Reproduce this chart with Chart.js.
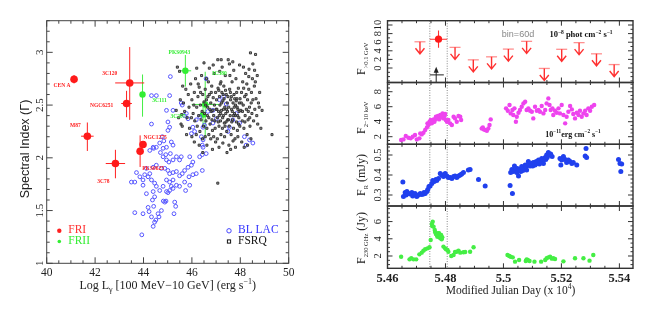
<!DOCTYPE html>
<html><head><meta charset="utf-8">
<script src="https://cdn.jsdelivr.net/npm/chart.js@4.4.0/dist/chart.umd.min.js"></script>
<style>
html,body{margin:0;padding:0;background:#fff;}
#wrap{position:relative;width:664px;height:317px;overflow:hidden;}
canvas{position:absolute;left:0;top:0;}
</style></head><body>
<div id="wrap">
<canvas id="cL" width="664" height="317"></canvas>
<canvas id="c1" width="664" height="317"></canvas>
<canvas id="c2" width="664" height="317"></canvas>
<canvas id="c3" width="664" height="317"></canvas>
<canvas id="c4" width="664" height="317"></canvas>
</div>
<script>
// ================= DATA : left panel =================
const lumTicks = [40,42,44,46,48,50];
const lumTickLabels = ['40','42','44','46','48','50'];
const idxTicks = [1,1.5,2,2.5,3];
const idxTickLabels = ['1','1.5','2','2.5','3'];
const lumRange = [40,50];
const idxRange = [1,3.3];

const friNames = ['CEN A','3C120','NGC6251','M87','NGC1275','PKS0625','3C78'];
const friX = [41.13,43.43,43.30,41.68,43.98,43.86,42.84];
const friY = [2.745,2.71,2.515,2.205,2.126,2.063,1.946];
const friXerr = [0.05,0.60,0.22,0.26,0.05,0.08,0.40];
const friYerrLo = [0.04,0.35,0.13,0.14,0.03,0.15,0.14];
const friYerrHi = [0.04,0.34,0.12,0.13,0.03,0.15,0.13];

const friiNames = ['PKS0943','3C111','3C380','3C207'];
const friiX = [45.73,43.96,46.55,46.46];
const friiY = [2.825,2.60,2.506,2.41];
const friiXerr = [0.24,0.10,0.56,0.15];
const friiYerrLo = [0.15,0.21,0.31,0.12];
const friiYerrHi = [0.15,0.19,0.31,0.09];

const blLac = [
[45.11,2.77],[44.33,2.59],[44.53,2.59],[45.08,2.59],[45.56,2.52],[45.60,2.50],[44.95,2.45],[45.22,2.45],[44.33,2.32],[45.01,2.34],
[45.08,2.29],[45.01,2.26],[45.70,2.40],[45.84,2.37],[46.04,2.29],[46.11,2.25],[45.77,2.42],[46.32,2.39],[46.59,2.75],[46.66,2.44],
[46.46,2.29],[46.39,2.20],[46.46,2.17],[46.43,2.12],[46.46,2.10],[46.32,2.01],[46.43,2.03],[46.59,2.04],[46.43,1.88],[46.87,2.45],
[47.14,2.55],[47.31,2.58],[47.55,2.29],[47.49,2.25],[47.69,2.36],[47.83,2.42],[47.97,2.33],[48.17,2.20],[48.24,2.12],[48.38,2.17],
[48.52,2.14],[47.01,2.37],[46.87,2.33],[46.52,2.31],[47.42,2.51],[45.98,2.23],[46.18,2.36],
[44.78,2.20],[44.84,2.16],[44.67,2.14],[44.53,2.10],[44.40,2.10],[44.42,2.09],[44.26,2.07],[44.81,2.09],[44.95,2.10],[45.15,2.15],
[45.22,2.12],[45.11,2.04],[44.92,2.03],[44.70,2.05],[44.81,2.01],[44.95,1.98],[45.05,1.96],[45.22,1.98],[45.36,2.01],[45.56,2.01],
[45.49,1.98],[45.91,2.01],[46.04,1.96],[45.98,1.93],[45.84,1.91],[45.70,1.88],[45.60,1.85],[45.49,1.83],[45.36,1.87],[45.22,1.86],
[45.08,1.85],[45.01,1.88],[44.88,1.90],[44.74,1.90],[44.53,1.93],[44.40,1.91],[44.26,1.85],[44.12,1.90],[44.05,1.84],[43.98,1.79],
[43.85,1.82],[43.71,1.86],[43.64,1.77],[43.50,1.77],[43.98,1.74],[44.19,1.82],[44.33,1.79],[44.46,1.76],[44.53,1.73],[44.67,1.69],
[44.81,1.73],[44.95,1.79],[45.08,1.77],[45.22,1.79],[45.36,1.74],[45.49,1.73],[45.70,1.77],[45.88,1.82],[45.91,1.74],[46.04,1.84],
[46.18,1.85],[44.40,1.68],[44.46,1.63],[44.37,1.60],[44.42,1.54],[44.95,1.68],[45.01,1.67],[45.08,1.69],[45.15,1.73],[45.22,1.71],
[45.29,1.58],[45.33,1.54],[44.88,1.58],[44.74,1.50],[44.60,1.47],[44.64,1.44],[44.51,1.41],[44.46,1.39],[44.19,1.53],[44.23,1.49],
[44.33,1.44],[43.98,1.47],[43.93,1.27],[43.64,1.48],[44.40,1.35],[44.12,1.66],[44.82,1.59],[44.93,1.59],[45.26,1.47],[45.74,1.69]
];

const fsrq = [
[45.40,2.86],[45.49,2.82],[45.35,2.45],[45.45,2.38],[45.55,2.32],[45.60,2.30],[45.65,2.52],[45.70,2.44],[45.75,2.65],[45.80,2.38],
[45.85,2.60],[45.90,2.28],[45.62,2.68],[45.52,2.55],[45.88,2.48],[45.78,2.22],[45.58,2.41],
[45.95,2.70],[46.00,2.55],[46.05,2.42],[46.10,2.62],[46.12,2.35],[46.15,2.75],[46.20,2.48],[46.22,2.30],[46.25,2.58],[46.28,2.40],
[46.30,2.67],[46.33,2.25],[46.35,2.50],[46.38,2.36],[46.40,2.78],[46.42,2.44],[46.45,2.60],[46.48,2.30],[46.50,2.53],[46.00,2.20],
[46.10,2.15],[46.30,2.12],[46.45,2.05],[46.20,2.85],[45.98,2.38],[46.08,2.50],[46.36,2.62],[46.18,2.22],[46.26,2.70],[46.44,2.18],
[46.52,2.42],[46.55,2.65],[46.58,2.35],[46.60,2.55],[46.62,2.28],[46.65,2.48],[46.68,2.72],[46.70,2.38],[46.72,2.60],[46.75,2.32],
[46.78,2.52],[46.80,2.44],[46.82,2.68],[46.85,2.26],[46.88,2.57],[46.90,2.40],[46.92,2.80],[46.95,2.35],[46.98,2.62],[47.00,2.46],
[46.55,2.20],[46.62,2.12],[46.70,2.22],[46.78,2.18],[46.85,2.08],[46.90,2.20],[46.98,2.15],[46.60,2.75],[46.72,2.85],[46.88,2.88],
[46.50,2.90],[46.66,2.58],[46.74,2.46],[46.83,2.36],[46.93,2.50],[46.57,2.50],[46.64,2.40],[46.80,2.62],[46.96,2.28],[46.86,2.45],
[47.02,2.55],[47.05,2.38],[47.07,2.93],[47.08,2.66],[47.10,2.44],[47.12,2.30],[47.14,2.58],[47.16,2.50],[47.18,2.35],[47.20,2.72],
[47.21,2.93],[47.22,2.45],[47.24,2.62],[47.26,2.28],[47.28,2.54],[47.30,2.40],[47.32,2.68],[47.34,2.33],[47.36,2.48],[47.38,2.78],
[47.40,2.42],[47.42,2.60],[47.44,2.25],[47.46,2.52],[47.48,2.36],[47.50,2.93],[47.05,2.18],[47.12,2.10],[47.20,2.22],[47.28,2.14],
[47.35,2.20],[47.45,2.05],[47.07,1.76],[47.15,2.82],[47.25,2.86],[47.33,2.56],[47.03,2.46],[47.11,2.64],[47.19,2.42],[47.27,2.38],
[47.37,2.30],[47.43,2.46],[47.09,2.34],[47.17,2.70],[47.23,2.52],[47.31,2.46],[47.39,2.64],[47.47,2.44],[47.13,2.40],[47.29,2.60],
[47.41,2.34],[47.49,2.58],
[47.52,2.48],[47.54,2.30],[47.55,2.89],[47.56,2.65],[47.58,2.40],[47.60,2.55],[47.62,2.22],[47.64,2.46],[47.66,2.72],[47.68,2.36],
[47.69,2.91],[47.70,2.52],[47.72,2.28],[47.74,2.60],[47.76,2.42],[47.78,2.18],[47.80,2.50],[47.82,2.75],[47.84,2.34],[47.86,2.56],
[47.88,2.26],[47.90,2.46],[47.92,2.66],[47.94,2.38],[47.96,2.52],[47.97,2.88],[47.98,2.30],[47.53,2.12],[47.60,2.08],[47.70,2.16],
[47.80,2.10],[47.90,2.20],[47.57,2.78],[47.73,2.83],[47.85,2.62],[47.63,2.58],[47.75,2.48],[47.95,2.44],[47.67,2.44],[47.79,2.40],
[47.87,2.48],[47.51,2.36],[47.59,2.62],[47.71,2.40],[47.83,2.54],[47.93,2.32],[47.65,2.34],[47.77,2.56],[47.89,2.40],[47.99,2.56],
[48.02,2.45],[48.05,2.62],[48.08,2.35],[48.10,2.72],[48.12,2.50],[48.15,2.28],[48.18,2.58],[48.20,2.40],[48.22,2.80],[48.25,2.46],
[48.28,2.22],[48.30,2.55],[48.32,2.36],[48.35,2.65],[48.38,2.48],[48.40,2.30],[48.42,2.995],[48.45,2.52],[48.48,2.42],[48.50,2.75],
[48.06,2.15],[48.16,2.10],[48.30,2.12],[48.44,2.18],[48.13,2.86],[48.27,2.70],[48.36,2.84],[48.04,2.52],[48.24,2.60],[48.46,2.62],
[48.09,2.44],[48.19,2.34],[48.33,2.44],[48.14,2.66],[48.39,2.38],
[48.52,2.55],[48.55,2.35],[48.58,2.68],[48.60,2.46],[48.63,2.98],[48.65,2.56],[48.68,2.40],[48.70,2.78],[48.75,2.52],[48.80,2.62],
[48.85,2.28],[48.90,2.45],[49.31,2.22],[48.72,2.32],[48.62,2.72],[48.78,2.48],[48.52,2.89],[48.59,2.83],[48.35,2.77]
];

// ================= DATA : right panels (MJD / 1e4) =================
const mjdRange = [5.46, 5.5447];
const mjdTicks = [5.46,5.48,5.50,5.52,5.54];
const mjdTickLabels = ['5.46','5.48','5.5','5.52','5.54'];
const flareEdges = [5.4746, 5.4806];

// panel 1 : gamma-ray flux (1e-8 ph cm-2 s-1)
const gamRange = [-3.37, 11.0];
const gamTicks = [0,2,4,6,8,10];
const gamTickLabels = ['0','2','4','6','8','10'];
const ulT = [5.4712,5.4833,5.4896,5.4959,5.5017,5.5080,5.5141,5.5201,5.5261,5.5321,5.5382];
const ulF = [6.1,4.8,1.9,2.6,4.4,6.2,-0.1,4.35,5.9,3.3,0.8];
const detT = [5.4776];
const detF = [6.7];
const detFerr = [2.0];
const tsT = [5.4768];
const tsLevel = [-1.6];
const tsTip = [0.3];

// panel 2 : X-ray 2-10 keV (1e-11 erg cm-2 s-1)
const xrRange = [0.987, 9.23];
const xrTicks = [2,4,6,8];
const xrTickLabels = ['2','4','6','8'];
const xray = [
[5.4647,1.56],[5.4655,1.64],[5.4663,2.09],[5.4672,1.87],[5.4680,1.78],[5.4687,2.00],[5.4695,2.22],[5.4701,1.64],[5.4710,1.78],[5.4713,2.44],
[5.4718,2.31],[5.4724,2.53],[5.4730,2.89],[5.4736,3.24],[5.4738,3.78],[5.4741,3.56],[5.4745,4.00],[5.4747,3.78],[5.4749,4.22],[5.4753,3.78],
[5.4756,4.13],[5.4759,4.31],[5.4762,4.00],[5.4764,4.31],[5.4767,4.67],[5.4770,4.44],[5.4774,4.76],[5.4776,4.58],[5.4778,4.31],[5.4782,4.89],
[5.4785,4.58],[5.4787,4.76],[5.4790,5.11],[5.4793,4.44],[5.4797,4.76],[5.4799,5.02],[5.4801,4.22],[5.4805,4.00],[5.4810,4.22],[5.4816,3.78],
[5.4822,3.56],[5.4828,4.67],[5.4833,4.44],[5.4839,4.00],[5.4845,4.76],[5.4851,4.67],[5.4854,4.22],
[5.4925,3.11],[5.4929,3.24],[5.4931,2.98],[5.4937,2.89],[5.4943,2.80],[5.4948,3.11],[5.4952,3.56],[5.4956,4.31],
[5.5009,5.78],[5.5015,5.47],[5.5021,6.22],[5.5025,5.11],[5.5031,5.56],[5.5034,4.89],[5.5038,5.78],[5.5043,4.00],[5.5046,4.67],[5.5052,5.20],
[5.5057,5.56],[5.5063,6.00],[5.5069,6.44],[5.5075,6.67],[5.5080,5.56],[5.5086,5.78],[5.5092,5.47],[5.5098,5.33],[5.5103,4.44],[5.5109,6.00],
[5.5115,5.47],[5.5121,5.56],[5.5126,5.33],[5.5132,6.09],[5.5138,5.11],[5.5144,5.56],[5.5149,6.44],[5.5155,7.11],[5.5159,6.22],[5.5163,5.56],
[5.5169,5.78],[5.5172,4.89],[5.5178,5.47],[5.5184,5.20],[5.5190,5.78],[5.5195,5.11],[5.5201,6.22],[5.5207,4.89],[5.5213,3.78],[5.5218,4.67],
[5.5224,5.33],[5.5230,6.09],[5.5236,5.64],[5.5241,5.02],[5.5247,4.44],[5.5253,5.20],[5.5259,4.89],[5.5264,5.47],[5.5270,4.67],[5.5276,5.11],
[5.5282,5.47],[5.5287,4.89],[5.5293,5.78],[5.5299,5.47],[5.5305,6.00],[5.5313,6.22]
];

// panel 3 : optical R band (mJy)
const optRange = [0.245, 0.5535];
const optTicks = [0.3,0.4,0.5];
const optTickLabels = ['0.3','0.4','0.5'];
const optical = [
[5.4653,0.365],[5.4655,0.292],[5.4661,0.312],[5.4664,0.300],[5.4667,0.317],[5.4672,0.308],[5.4678,0.305],[5.4684,0.312],[5.4687,0.295],[5.4690,0.303],
[5.4695,0.308],[5.4701,0.292],[5.4707,0.300],[5.4713,0.308],[5.4718,0.303],[5.4724,0.305],[5.4726,0.312],[5.4730,0.308],[5.4736,0.317],[5.4739,0.328],
[5.4743,0.342],[5.4747,0.345],[5.4753,0.358],[5.4756,0.372],[5.4761,0.367],[5.4767,0.378],[5.4770,0.372],[5.4776,0.383],[5.4782,0.408],[5.4787,0.400],
[5.4793,0.392],[5.4799,0.408],[5.4805,0.395],[5.4810,0.388],[5.4816,0.387],[5.4822,0.383],[5.4828,0.392],[5.4833,0.395],[5.4839,0.388],[5.4845,0.395],
[5.4851,0.400],[5.4856,0.405],[5.4862,0.412],[5.4879,0.425],[5.4885,0.428],[5.4914,0.378],[5.4937,0.345],
[5.5023,0.348],[5.5025,0.412],[5.5029,0.428],[5.5031,0.308],[5.5034,0.417],[5.5038,0.445],[5.5043,0.425],[5.5046,0.412],[5.5048,0.433],[5.5052,0.395],
[5.5055,0.428],[5.5060,0.417],[5.5063,0.442],[5.5067,0.422],[5.5069,0.433],[5.5075,0.450],[5.5078,0.442],[5.5080,0.425],[5.5086,0.467],[5.5090,0.455],
[5.5092,0.445],[5.5098,0.458],[5.5101,0.445],[5.5103,0.462],[5.5109,0.450],[5.5113,0.467],[5.5115,0.458],[5.5121,0.475],[5.5124,0.455],[5.5126,0.467],
[5.5132,0.483],[5.5136,0.475],[5.5138,0.458],[5.5144,0.488],[5.5146,0.478],[5.5149,0.500],[5.5151,0.488],[5.5155,0.512],[5.5159,0.500],[5.5163,0.505],
[5.5168,0.492],[5.5195,0.483],[5.5198,0.450],[5.5201,0.475],[5.5207,0.492],[5.5213,0.478],[5.5218,0.462],[5.5224,0.475],[5.5230,0.467],[5.5236,0.458],
[5.5241,0.462],[5.5253,0.450],[5.5282,0.495],[5.5285,0.533],[5.5287,0.488],[5.5397,0.478],[5.5402,0.458],[5.5405,0.417],[5.5408,0.455]
];

// panel 4 : radio 230 GHz (Jy)
const radRange = [0.57, 7.81];
const radTicks = [2,4,6];
const radTickLabels = ['2','4','6'];
const radio = [
[5.4647,1.92],[5.4676,1.61],[5.4682,1.73],[5.4690,1.61],[5.4699,1.61],[5.4710,2.19],[5.4718,2.39],[5.4724,2.62],[5.4730,2.78],[5.4738,2.89],
[5.4745,3.01],[5.4749,3.86],[5.4753,5.72],[5.4754,5.49],[5.4756,5.99],[5.4759,5.41],[5.4763,5.02],[5.4764,4.79],[5.4767,4.56],[5.4770,4.44],
[5.4772,4.25],[5.4774,4.64],[5.4776,4.25],[5.4778,4.64],[5.4779,4.33],[5.4782,4.05],[5.4784,4.25],[5.4785,4.44],[5.4787,3.94],[5.4789,4.17],
[5.4793,3.09],[5.4799,2.89],[5.4802,2.78],[5.4807,2.70],[5.4810,2.50],[5.4820,2.00],[5.4828,2.12],[5.4833,2.47],[5.4839,2.50],[5.4845,2.62],
[5.4851,2.39],[5.4862,2.43],[5.4868,2.47],[5.4885,2.50],[5.4897,3.01],
[5.5014,2.12],[5.5020,2.00],[5.5025,1.92],[5.5032,1.84],[5.5040,1.34],[5.5054,1.53],[5.5077,1.42],[5.5080,1.61],[5.5084,1.53],[5.5090,1.42],
[5.5107,1.34],[5.5130,1.34],[5.5144,1.53],[5.5149,1.73],[5.5155,1.84],[5.5161,1.92],[5.5167,1.69],[5.5172,1.73],[5.5178,1.65],[5.5207,1.38],
[5.5247,1.73],[5.5276,1.73],[5.5297,1.46],[5.5310,2.12]
];

// ================= STYLE / LAYOUT =================
const SERIF = '"Liberation Serif", "DejaVu Serif", serif';
const SANS = '"Liberation Sans", "DejaVu Sans", sans-serif';
const LEFT_AREA = {left:46.7, top:20.7, right:288.7, bottom:263.3};
const R_LEFT = 387.5, R_RIGHT = 633;
const R_ROWS = [[20.7,82.5],[82.5,144.3],[144.3,206],[206,268.3]];

function rich(ctx, segs, x, y, o) {
  o = o || {};
  const align = o.align || 'center';
  ctx.save();
  ctx.translate(x, y);
  if (o.rotate) ctx.rotate(o.rotate);
  ctx.fillStyle = o.color || '#000';
  ctx.textBaseline = 'alphabetic';
  ctx.textAlign = 'left';
  let w = 0;
  for (const s of segs) {
    ctx.font = (s.w || o.w || 'normal') + ' ' + s.size + 'px ' + (s.f || o.f || SERIF);
    s._w = ctx.measureText(s.t).width; w += s._w;
  }
  let cx = align === 'center' ? -w / 2 : (align === 'right' ? -w : 0);
  for (const s of segs) {
    ctx.font = (s.w || o.w || 'normal') + ' ' + s.size + 'px ' + (s.f || o.f || SERIF);
    ctx.fillText(s.t, cx, s.dy || 0);
    cx += s._w;
  }
  ctx.restore();
}

function isMajor(v, majors, step) {
  return majors.some(m => Math.abs(m - v) < step / 10);
}

function drawTicks(ctx, chart, xMinor, xMajors, yMinor, yMajors, majLen, minLen) {
  const a = chart.chartArea, xs = chart.scales.x, ys = chart.scales.y;
  ctx.beginPath();
  for (let k = Math.ceil(xs.min / xMinor - 1e-6); k * xMinor <= xs.max + 1e-9; k++) {
    const v = k * xMinor, p = xs.getPixelForValue(v);
    const L = isMajor(v, xMajors, xMinor) ? majLen : minLen;
    ctx.moveTo(p, a.bottom); ctx.lineTo(p, a.bottom - L);
    ctx.moveTo(p, a.top); ctx.lineTo(p, a.top + L);
  }
  for (let k = Math.ceil(ys.min / yMinor - 1e-6); k * yMinor <= ys.max + 1e-9; k++) {
    const v = k * yMinor, p = ys.getPixelForValue(v);
    const L = isMajor(v, yMajors, yMinor) ? majLen : minLen;
    ctx.moveTo(a.left, p); ctx.lineTo(a.left + L, p);
    ctx.moveTo(a.right, p); ctx.lineTo(a.right - L, p);
  }
  ctx.stroke();
}

function baseOptions(area, xr, yr) {
  return {
    responsive: false, animation: false, events: [],
    layout: {padding: {left: area.left, top: area.top, right: 664 - area.right, bottom: 317 - area.bottom}},
    plugins: {legend: {display: false}, tooltip: {enabled: false}},
    scales: {
      x: {type: 'linear', min: xr[0], max: xr[1], display: false, ticks: {display: false}, grid: {display: false}},
      y: {type: 'linear', min: yr[0], max: yr[1], display: false, ticks: {display: false}, grid: {display: false}}
    }
  };
}

// ================= LEFT PANEL =================
const nameOffsets = { // pixel offsets of label centres from points (style)
  fri: [[-12,6],[-20,-9],[-25,2],[-12,-11],[12,-7],[13,17],[-12,18]],
  frii: [[-6,-18],[17,6],[14,-31],[-25,2]]
};

const leftDeco = {
  id: 'leftDeco',
  beforeDatasetsDraw(chart) {
    const ctx = chart.ctx, xs = chart.scales.x, ys = chart.scales.y;
    ctx.save();
    ctx.lineWidth = 1;
    const bars = (X, Y, XE, YL, YH, col) => {
      ctx.strokeStyle = col;
      ctx.beginPath();
      for (let i = 0; i < X.length; i++) {
        const px = xs.getPixelForValue(X[i]), py = ys.getPixelForValue(Y[i]);
        ctx.moveTo(xs.getPixelForValue(X[i] - XE[i]), py); ctx.lineTo(xs.getPixelForValue(X[i] + XE[i]), py);
        ctx.moveTo(px, ys.getPixelForValue(Y[i] - YL[i])); ctx.lineTo(px, ys.getPixelForValue(Y[i] + YH[i]));
      }
      ctx.stroke();
    };
    bars(friiX, friiY, friiXerr, friiYerrLo, friiYerrHi, '#44ee44');
    bars(friX, friY, friXerr, friYerrLo, friYerrHi, '#ff2020');
    ctx.restore();
  },
  afterDatasetsDraw(chart) {
    const ctx = chart.ctx, a = chart.chartArea, xs = chart.scales.x, ys = chart.scales.y;
    ctx.save();
    ctx.strokeStyle = '#444'; ctx.lineWidth = 1;
    ctx.strokeRect(a.left, a.top, a.right - a.left, a.bottom - a.top);
    drawTicks(ctx, chart, 0.5, lumTicks, 0.1, idxTicks, 6, 3);
    ctx.fillStyle = '#222';
    ctx.font = '11.5px ' + SERIF; ctx.textAlign = 'center'; ctx.textBaseline = 'alphabetic';
    lumTicks.forEach((v, i) => ctx.fillText(lumTickLabels[i], xs.getPixelForValue(v), a.bottom + 13));
    idxTicks.forEach((v, i) => {
      ctx.save(); ctx.translate(a.left - 7, ys.getPixelForValue(v)); ctx.rotate(-Math.PI / 2);
      ctx.textBaseline = 'middle'; ctx.font = '11px ' + SERIF; ctx.fillText(idxTickLabels[i], 0, 0); ctx.restore();
    });
    rich(ctx, [{t: 'Spectral Index (\u0393)', size: 12.5}], 28.5, 149, {rotate: -Math.PI / 2, f: SANS, color: '#222'});
    rich(ctx, [{t: 'Log L', size: 12}, {t: '\u03b3', size: 8, dy: 3}, {t: ' [100 MeV\u221210 GeV] (erg s', size: 12}, {t: '\u22121', size: 8, dy: -5}, {t: ')', size: 12}],
      (a.left + a.right) / 2, a.bottom + 26, {color: '#222'});
    ctx.font = 'bold 5.5px ' + SERIF; ctx.textAlign = 'center'; ctx.textBaseline = 'middle';
    ctx.fillStyle = '#ff2020';
    friNames.forEach((n, i) => ctx.fillText(n, xs.getPixelForValue(friX[i]) + nameOffsets.fri[i][0], ys.getPixelForValue(friY[i]) + nameOffsets.fri[i][1]));
    ctx.fillStyle = '#33ee33';
    friiNames.forEach((n, i) => ctx.fillText(n, xs.getPixelForValue(friiX[i]) + nameOffsets.frii[i][0], ys.getPixelForValue(friiY[i]) + nameOffsets.frii[i][1]));
    const lx1 = a.left + 12.6, lx2 = a.left + 182.3, ly1 = a.bottom - 32.5, ly2 = a.bottom - 21.8;
    ctx.fillStyle = '#ff2020'; ctx.beginPath(); ctx.arc(lx1, ly1, 2.2, 0, 2 * Math.PI); ctx.fill();
    ctx.fillStyle = '#33ee33'; ctx.beginPath(); ctx.arc(lx1, ly2, 1.8, 0, 2 * Math.PI); ctx.fill();
    ctx.strokeStyle = '#4444ff'; ctx.lineWidth = 1; ctx.beginPath(); ctx.arc(lx2, ly1, 2.2, 0, 2 * Math.PI); ctx.stroke();
    ctx.strokeStyle = '#111'; ctx.strokeRect(lx2 - 1.6, ly2 - 1.6, 3.2, 3.2);
    ctx.font = '11.5px ' + SERIF; ctx.textAlign = 'left'; ctx.textBaseline = 'middle';
    ctx.fillStyle = '#ff3030'; ctx.fillText('FRI', lx1 + 9, ly1 - 1);
    ctx.fillStyle = '#33ee33'; ctx.fillText('FRII', lx1 + 9, ly2 - 1);
    ctx.fillStyle = '#3333ff'; ctx.fillText('BL LAC', lx2 + 9, ly1 - 1);
    ctx.fillStyle = '#111'; ctx.fillText('FSRQ', lx2 + 9, ly2 - 1);
    ctx.restore();
  }
};

const toXY = arr => arr.map(p => ({x: p[0], y: p[1]}));
const zipXY = (X, Y) => X.map((x, i) => ({x: x, y: Y[i]}));

new Chart(document.getElementById('cL'), {
  type: 'scatter',
  data: {datasets: [
    {data: toXY(fsrq), pointStyle: 'rect', pointRadius: 1.45, borderWidth: 0.9, borderColor: '#2a2a2a', backgroundColor: 'rgba(130,130,130,0.7)'},
    {data: toXY(blLac), pointStyle: 'circle', pointRadius: 1.9, borderWidth: 1, borderColor: '#5555ff', backgroundColor: 'rgba(255,255,255,0)'},
    {data: zipXY(friiX, friiY), pointStyle: 'circle', pointRadius: 3.2, borderWidth: 0, backgroundColor: '#33ee33'},
    {data: zipXY(friX, friY), pointStyle: 'circle', pointRadius: 3.8, borderWidth: 0, backgroundColor: '#ff1a1a'}
  ]},
  options: baseOptions(LEFT_AREA, lumRange, idxRange),
  plugins: [leftDeco]
});

// ================= RIGHT PANELS =================
function rightDeco(idx, yTicks, yLabels, yMinor, titleSegs, titleStart, extra) {
  return {
    id: 'rdeco' + idx,
    beforeDatasetsDraw(chart) {
      const ctx = chart.ctx, a = chart.chartArea, xs = chart.scales.x;
      ctx.save();
      ctx.strokeStyle = '#888'; ctx.lineWidth = 1; ctx.setLineDash([1, 1.5]);
      ctx.beginPath();
      flareEdges.forEach(t => { const p = xs.getPixelForValue(t); ctx.moveTo(p, a.top); ctx.lineTo(p, a.bottom); });
      ctx.stroke();
      ctx.restore();
    },
    afterDatasetsDraw(chart) {
      const ctx = chart.ctx, a = chart.chartArea, xs = chart.scales.x, ys = chart.scales.y;
      if (extra && extra.after) extra.after(chart);
      ctx.save();
      ctx.strokeStyle = '#333'; ctx.lineWidth = 1.4;
      ctx.strokeRect(a.left, a.top, a.right - a.left, a.bottom - a.top);
      ctx.lineWidth = 1;
      drawTicks(ctx, chart, 0.005, mjdTicks, yMinor, yTicks, 5, 2.5);
      ctx.fillStyle = '#222';
      yTicks.forEach((v, i) => {
        ctx.save(); ctx.translate(a.left - 9.5, ys.getPixelForValue(v)); ctx.rotate(-Math.PI / 2);
        ctx.textAlign = 'center'; ctx.textBaseline = 'middle'; ctx.font = '10.5px ' + SERIF;
        ctx.fillText(yLabels[i], 0, 0); ctx.restore();
      });
      rich(ctx, titleSegs, 365, titleStart, {rotate: -Math.PI / 2, align: 'left', color: '#222'});
      if (idx === 4) {
        ctx.font = 'bold 12.5px ' + SERIF; ctx.textAlign = 'center'; ctx.textBaseline = 'alphabetic';
        mjdTicks.forEach((v, i) => ctx.fillText(mjdTickLabels[i], xs.getPixelForValue(v), a.bottom + 13.4));
        rich(ctx, [{t: 'Modified Julian Day (x 10', size: 11.5}, {t: '4', size: 7.5, dy: -5}, {t: ')', size: 11.5}],
          510.5, a.bottom + 25.7, {color: '#222'});
      }
      ctx.restore();
    }
  };
}

const p1Extra = {
  after(chart) {
    const ctx = chart.ctx, a = chart.chartArea, xs = chart.scales.x, ys = chart.scales.y;
    ctx.save();
    ulT.forEach((t, i) => {
      const x = xs.getPixelForValue(t), y = ys.getPixelForValue(ulF[i]);
      ctx.strokeStyle = '#ff9090'; ctx.lineWidth = 1.3;
      ctx.beginPath(); ctx.moveTo(x - 5.5, y); ctx.lineTo(x + 5.5, y); ctx.stroke();
      ctx.strokeStyle = '#ff3030'; ctx.lineWidth = 1.4;
      ctx.beginPath(); ctx.moveTo(x, y); ctx.lineTo(x, y + 12);
      ctx.moveTo(x - 4.5, y + 6.5); ctx.lineTo(x, y + 12); ctx.lineTo(x + 4.5, y + 6.5); ctx.stroke();
    });
    detT.forEach((t, i) => {
      const x = xs.getPixelForValue(t), y = ys.getPixelForValue(detF[i]);
      ctx.strokeStyle = '#ff3030'; ctx.lineWidth = 1.1;
      ctx.beginPath();
      ctx.moveTo(xs.getPixelForValue(flareEdges[0]), y); ctx.lineTo(xs.getPixelForValue(flareEdges[1]), y);
      ctx.moveTo(x, ys.getPixelForValue(detF[i] - detFerr[i])); ctx.lineTo(x, ys.getPixelForValue(detF[i] + detFerr[i]));
      ctx.stroke();
      ctx.fillStyle = '#ff1a1a'; ctx.beginPath(); ctx.arc(x, y, 3.6, 0, 2 * Math.PI); ctx.fill();
    });
    tsT.forEach((t, i) => {
      const x = xs.getPixelForValue(t), yl = ys.getPixelForValue(tsLevel[i]), yt = ys.getPixelForValue(tsTip[i]);
      ctx.strokeStyle = '#222'; ctx.fillStyle = '#222'; ctx.lineWidth = 1;
      ctx.beginPath();
      ctx.moveTo(xs.getPixelForValue(flareEdges[0]), yl); ctx.lineTo(xs.getPixelForValue(flareEdges[0]) + 14, yl);
      ctx.moveTo(x, a.bottom); ctx.lineTo(x, yt + 4);
      ctx.stroke();
      ctx.beginPath(); ctx.moveTo(x, yt); ctx.lineTo(x - 2.5, yt + 6); ctx.lineTo(x + 2.5, yt + 6); ctx.closePath(); ctx.fill();
    });
    ctx.font = '9px ' + SANS; ctx.fillStyle = '#888'; ctx.textAlign = 'center'; ctx.textBaseline = 'alphabetic';
    ctx.fillText('bin=60d', 518, a.top + 16.3);
    rich(ctx, [{t: '10', size: 8.5}, {t: '\u22128', size: 5.5, dy: -3.5}, {t: ' phot cm', size: 8.5}, {t: '\u22122', size: 5.5, dy: -3.5},
      {t: ' s', size: 8.5}, {t: '\u22121', size: 5.5, dy: -3.5}], 581, a.top + 16.3, {w: 'bold', color: '#111'});
    ctx.restore();
  }
};
const p2Extra = {
  after(chart) {
    const ctx = chart.ctx, a = chart.chartArea;
    rich(ctx, [{t: '10', size: 8}, {t: '\u221211', size: 5.2, dy: -3.5}, {t: 'erg cm', size: 8}, {t: '\u22122', size: 5.2, dy: -3.5},
      {t: ' s', size: 8}, {t: '\u22121', size: 5.2, dy: -3.5}], 573, a.bottom - 7.8, {w: 'bold', color: '#111'});
  }
};

const panels = [
  {id: 'c1', yr: gamRange, ticks: gamTicks, labels: gamTickLabels, minor: 1,
   title: [{t: 'F', size: 12}, {t: '>0.1 GeV', size: 6.5, dy: 2.5}], start: 75, extra: p1Extra, data: []},
  {id: 'c2', yr: xrRange, ticks: xrTicks, labels: xrTickLabels, minor: 0.5,
   title: [{t: 'F', size: 12}, {t: '2\u221210 keV', size: 6.5, dy: 2.5}], start: 134, extra: p2Extra,
   data: [{data: toXY(xray), pointRadius: 2.2, borderWidth: 0, backgroundColor: '#ee44ee'}]},
  {id: 'c3', yr: optRange, ticks: optTicks, labels: optTickLabels, minor: 0.02,
   title: [{t: 'F', size: 12}, {t: 'R', size: 6.5, dy: 2.5}, {t: ' (mJy)', size: 12}], start: 196, extra: null,
   data: [{data: toXY(optical), pointRadius: 2.5, borderWidth: 0, backgroundColor: '#2040ee'}]},
  {id: 'c4', yr: radRange, ticks: radTicks, labels: radTickLabels, minor: 0.5,
   title: [{t: 'F', size: 12}, {t: '230 GHz', size: 6.5, dy: 2.5}, {t: ' (Jy)', size: 12}], start: 264, extra: null,
   data: [{data: toXY(radio), pointRadius: 2.2, borderWidth: 0, backgroundColor: '#44ee44'}]}
];

panels.forEach((p, i) => {
  const area = {left: R_LEFT, right: R_RIGHT, top: R_ROWS[i][0], bottom: R_ROWS[i][1]};
  new Chart(document.getElementById(p.id), {
    type: 'scatter',
    data: {datasets: p.data},
    options: baseOptions(area, mjdRange, p.yr),
    plugins: [rightDeco(i + 1, p.ticks, p.labels, p.minor, p.title, p.start, p.extra)]
  });
});
</script>
</body></html>
